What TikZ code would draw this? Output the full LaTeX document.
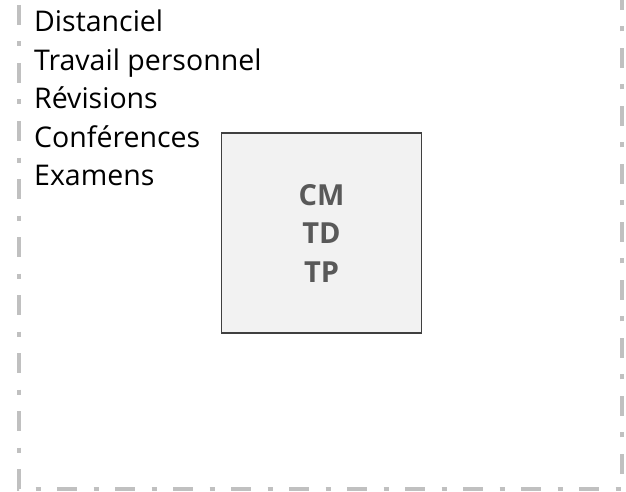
\documentclass[tikz,border=0pt]{standalone}
\usepackage{fontspec}
\setmainfont{Open Sans}
\usepackage{xcolor}
\usepackage{tikz}

\definecolor{framegray}{HTML}{C0C0C0}
\definecolor{boxfill}{HTML}{F2F2F2}
\definecolor{boxline}{HTML}{404040}
\definecolor{boxtext}{HTML}{595959}

\begin{document}
\begin{tikzpicture}[x=1bp,y=-1bp,
  frame/.style={line width=4.5bp,draw=framegray,dash pattern=on 20bp off 16.5bp on 5bp off 16.5bp,dash phase=33bp},
  item/.style={anchor=base west,inner sep=0pt,font=\fontsize{28.5bp}{32bp}\selectfont},
  seance/.style={rectangle,minimum size=200bp,draw=boxline,line width=1.3bp,fill=boxfill,text=boxtext,align=center,font=\fontsize{29bp}{38.5bp}\bfseries\selectfont}]
\useasboundingbox (0,0) rectangle (626,492);

% cadre
\coordinate (F1) at (19,-20);
\coordinate (F2) at (19,489);
\coordinate (F3) at (622,489);
\coordinate (F4) at (622,-20);
\begin{scope}
\clip (0,0) rectangle (626,492);
\draw[frame] (F1) -- (F2) -- (F3) -- (F4);
\end{scope}

% modalites
\node (I1)[item] at (34,31.7) {Distanciel};
\node (I2)[item] at (34,70.2) {Travail personnel};
\node (I3)[item] at (34,108.7) {Révisions};
\node (I4)[item] at (34,147.2) {Conférences};
\node (I5)[item] at (34,185.7) {Examens};

% cours
\node (S)[seance] at (321.5,233) {CM\\TD\\TP};
\end{tikzpicture}
\end{document}
